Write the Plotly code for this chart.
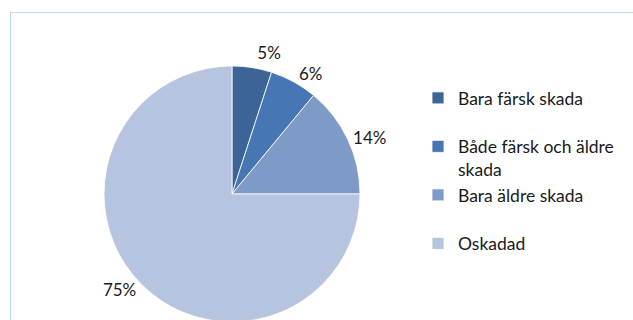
import plotly.graph_objects as go

labels = ["Bara färsk skada", "Både färsk och äldre skada", "Bara äldre skada", "Oskadad"]
legend_labels = ["Bara färsk skada<br> ", "Både färsk och äldre<br>skada", "Bara äldre skada<br> ", "Oskadad"]
values = [5, 6, 14, 75]
colors = ["#3C6497", "#4776B4", "#7E9BC8", "#B6C4DF"]

W, H = 633, 340
cx, cy, r = 232, 194, 128

fig = go.Figure(go.Pie(
    labels=legend_labels,
    values=values,
    sort=False,
    direction="clockwise",
    rotation=0,
    marker=dict(colors=colors, line=dict(color="white", width=0.8)),
    textinfo="percent",
    textposition="outside",
    outsidetextfont=dict(family="Lato", size=17, color="#1a1a1a"),
    domain=dict(x=[(cx - r) / W, (cx + r) / W], y=[1 - (cy + r) / H, 1 - (cy - r) / H]),
    hoverinfo="label+percent",
))

fig.update_layout(
    width=W, height=H,
    margin=dict(l=0, r=0, t=0, b=0),
    paper_bgcolor="white",
    showlegend=True,
    legend=dict(
        x=418 / W, y=1 - 80 / H, xanchor="left", yanchor="top",
        font=dict(family="Lato", size=17.5, color="#1a1a1a"),
        valign="top",
        bgcolor="rgba(0,0,0,0)",
    ),
    shapes=[dict(type="rect", xref="paper", yref="paper",
                 x0=10.5 / W, x1=1.02, y0=-0.1, y1=1 - 12.5 / H,
                 line=dict(color="#B9D7F0", width=1), fillcolor="rgba(0,0,0,0)", layer="below")],
)

hide_lines = "document.querySelectorAll('path.textline').forEach(function(e){e.style.display='none';});"
fig.write_html("out.html", post_script=hide_lines)
